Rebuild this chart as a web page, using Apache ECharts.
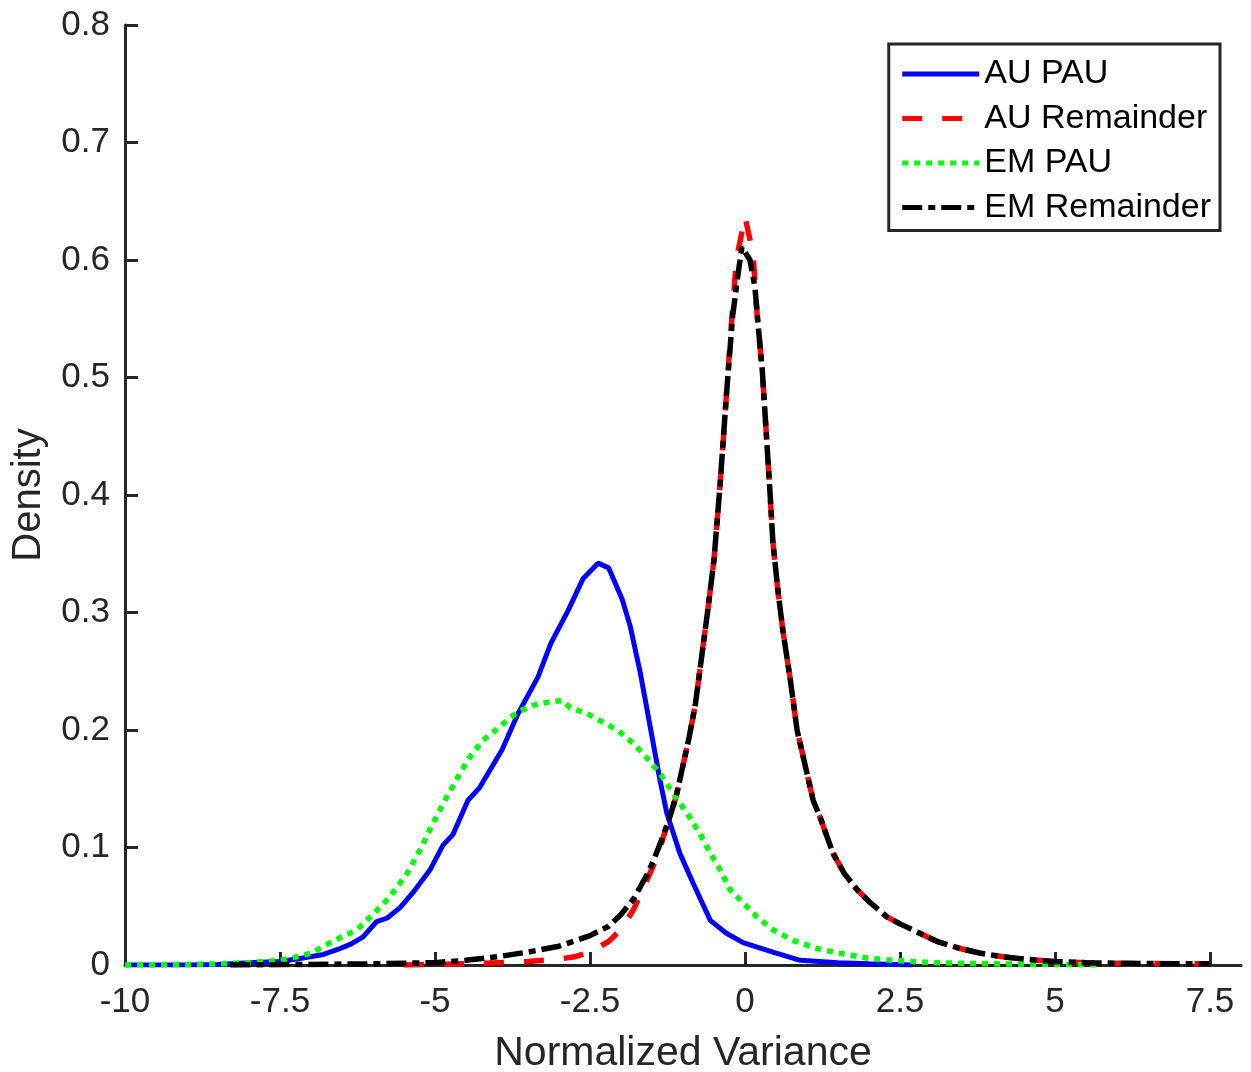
<!DOCTYPE html>
<html>
<head>
<meta charset="utf-8">
<script src="https://cdn.jsdelivr.net/npm/echarts@6/dist/echarts.min.js"></script>
<style>
html,body{margin:0;padding:0;background:#fff;}
#chart{width:1251px;height:1072px;}
</style>
</head>
<body>
<div id="chart"></div>
<script>
// ---- Data ----
var seriesNames = ['AU PAU', 'AU Remainder', 'EM PAU', 'EM Remainder'];
var xTicks = [-10, -7.5, -5, -2.5, 0, 2.5, 5, 7.5];
var yTicks = [0, 0.1, 0.2, 0.3, 0.4, 0.5, 0.6, 0.7, 0.8];

var auPauX = [-10, -9, -8.5, -8, -7.5, -7.13, -6.8, -6.58, -6.35, -6.16, -5.94, -5.77, -5.56, -5.35, -5.08, -4.87, -4.71, -4.47, -4.28, -3.92, -3.66, -3.34, -3.13, -2.85, -2.61, -2.37, -2.2, -1.98, -1.85, -1.69, -1.53, -1.37, -1.26, -1.05, -0.84, -0.56, -0.3, -0.03, 0.45, 0.89, 1.5, 2.0, 2.7];
var auPauY = [0, 0, 0.0005, 0.002, 0.003, 0.006, 0.009, 0.013, 0.018, 0.024, 0.037, 0.040, 0.049, 0.062, 0.081, 0.102, 0.111, 0.140, 0.151, 0.183, 0.214, 0.245, 0.274, 0.302, 0.329, 0.342, 0.338, 0.311, 0.288, 0.249, 0.203, 0.157, 0.129, 0.095, 0.070, 0.038, 0.027, 0.019, 0.011, 0.004, 0.002, 0.001, 0];

var auRemX = [-5.5, -4.5, -4.0, -3.5, -3.0, -2.75, -2.5, -2.2, -2.0, -1.8, -1.6, -1.4, -1.3, -1.2, -1.1, -1.0, -0.9, -0.8, -0.7, -0.6, -0.5, -0.4, -0.3, -0.22, -0.14, 0, 0.13, 0.2, 0.28, 0.34, 0.4, 0.45, 0.53, 0.61, 0.73, 0.84, 1.0, 1.1, 1.21, 1.42, 1.6, 1.81, 2.0, 2.29, 2.5, 2.82, 3.1, 3.47, 3.8, 4.16, 4.5, 4.97, 5.5, 6.05, 7.0, 7.5];
var auRemY = [0, 0.001, 0.002, 0.003, 0.005, 0.007, 0.011, 0.020, 0.030, 0.047, 0.070, 0.094, 0.112, 0.126, 0.146, 0.170, 0.194, 0.222, 0.262, 0.302, 0.345, 0.41, 0.485, 0.545, 0.600, 0.637, 0.605, 0.55, 0.505, 0.455, 0.405, 0.36, 0.319, 0.285, 0.243, 0.200, 0.163, 0.140, 0.126, 0.095, 0.078, 0.064, 0.054, 0.041, 0.035, 0.027, 0.020, 0.014, 0.010, 0.007, 0.005, 0.003, 0.002, 0.0015, 0.001, 0.001];

var emPauX = [-10, -9, -8.5, -8, -7.5, -7.23, -7.0, -6.69, -6.5, -6.26, -6.0, -5.73, -5.45, -5.24, -5.03, -4.81, -4.63, -4.44, -4.23, -3.95, -3.68, -3.42, -3.15, -2.94, -2.82, -2.55, -2.34, -2.06, -1.81, -1.58, -1.37, -1.16, -0.92, -0.73, -0.56, -0.40, -0.24, -0.03, 0.19, 0.45, 0.77, 1.16, 1.53, 1.96, 2.38, 3.0, 4.0, 5.0, 5.75];
var emPauY = [0, 0.0005, 0.001, 0.002, 0.004, 0.007, 0.010, 0.019, 0.024, 0.030, 0.043, 0.058, 0.078, 0.098, 0.121, 0.143, 0.160, 0.177, 0.191, 0.203, 0.215, 0.221, 0.224, 0.225, 0.219, 0.214, 0.208, 0.200, 0.189, 0.176, 0.163, 0.146, 0.128, 0.112, 0.095, 0.081, 0.064, 0.053, 0.041, 0.030, 0.021, 0.014, 0.010, 0.006, 0.004, 0.002, 0.001, 0.0005, 0];

var emRemX = [-8.3, -7.0, -6.0, -5.0, -4.5, -4.0, -3.5, -3.0, -2.5, -2.2, -2.0, -1.8, -1.6, -1.5, -1.4, -1.3, -1.2, -1.1, -1.0, -0.9, -0.8, -0.7, -0.6, -0.5, -0.4, -0.3, -0.2, -0.12, -0.05, 0.08, 0.16, 0.22, 0.28, 0.34, 0.4, 0.45, 0.53, 0.61, 0.73, 0.84, 1.0, 1.1, 1.21, 1.42, 1.6, 1.81, 2.0, 2.29, 2.5, 2.82, 3.1, 3.47, 3.8, 4.16, 4.5, 4.97, 5.5, 6.05, 7.0, 7.5];
var emRemY = [0, 0.0005, 0.001, 0.002, 0.004, 0.007, 0.011, 0.016, 0.025, 0.033, 0.043, 0.056, 0.075, 0.086, 0.099, 0.113, 0.128, 0.146, 0.170, 0.194, 0.222, 0.262, 0.302, 0.345, 0.41, 0.485, 0.552, 0.585, 0.611, 0.600, 0.577, 0.54, 0.505, 0.455, 0.405, 0.36, 0.319, 0.285, 0.243, 0.200, 0.163, 0.140, 0.126, 0.095, 0.078, 0.064, 0.054, 0.041, 0.035, 0.027, 0.020, 0.014, 0.010, 0.007, 0.005, 0.003, 0.002, 0.0015, 0.001, 0.001];

function pairs(xs, ys) { return xs.map(function (x, i) { return [x, ys[i]]; }); }

var FONT = 'Arial, "Liberation Sans", Helvetica, sans-serif';
var AX = '#262626';

var chart = echarts.init(document.getElementById('chart'), null, {renderer: 'canvas'});
chart.setOption({
  animation: false,
  backgroundColor: '#ffffff',
  grid: {left: 125, right: 10, top: 25, bottom: 107, containLabel: false, outerBoundsMode: 'none'},
  legend: {
    orient: 'vertical',
    right: 31,
    top: 44,
    data: seriesNames,
    itemWidth: 77,
    itemHeight: 20,
    itemGap: 10.5,
    padding: [13, 9, 6, 11],
    borderColor: '#262626',
    borderWidth: 3,
    backgroundColor: '#ffffff',
    itemStyle: {opacity: 0},
    lineStyle: {width: 5},
    textStyle: {fontFamily: FONT, fontSize: 34, color: '#000', lineHeight: 34}
  },
  xAxis: {
    type: 'value',
    min: -10, max: 8, interval: 2.5,
    name: 'Normalized Variance',
    nameLocation: 'middle',
    nameGap: 68,
    nameTextStyle: {fontFamily: FONT, fontSize: 41, color: AX},
    axisLine: {show: true, onZero: false, lineStyle: {color: AX, width: 3}},
    axisTick: {show: true, inside: true, length: 13, lineStyle: {color: AX, width: 3}, customValues: xTicks},
    axisLabel: {fontFamily: FONT, fontSize: 35, color: AX, margin: 20, customValues: xTicks},
    splitLine: {show: false}
  },
  yAxis: {
    type: 'value',
    min: 0, max: 0.8, interval: 0.1,
    name: 'Density',
    nameLocation: 'middle',
    nameGap: 76,
    nameTextStyle: {fontFamily: FONT, fontSize: 40, color: AX},
    axisLine: {show: true, onZero: false, lineStyle: {color: AX, width: 3}},
    axisTick: {show: true, inside: true, length: 13, lineStyle: {color: AX, width: 3}},
    axisLabel: {fontFamily: FONT, fontSize: 35, color: AX, margin: 15},
    splitLine: {show: false}
  },
  series: [
    {name: seriesNames[0], type: 'line', data: pairs(auPauX, auPauY), showSymbol: false, symbol: 'none',
     lineStyle: {color: '#0000ff', width: 5, type: 'solid'}, itemStyle: {color: '#0000ff'}, z: 2},
    {name: seriesNames[1], type: 'line', data: pairs(auRemX, auRemY), showSymbol: false, symbol: 'none',
     lineStyle: {color: '#ff0000', width: 5.5, type: [20, 20], cap: 'butt'}, itemStyle: {color: '#ff0000'}, z: 3},
    {name: seriesNames[2], type: 'line', data: pairs(emPauX, emPauY), showSymbol: false, symbol: 'none',
     lineStyle: {color: '#00ff00', width: 5.5, type: [6, 6], cap: 'butt'}, itemStyle: {color: '#00ff00'}, z: 4},
    {name: seriesNames[3], type: 'line', data: pairs(emRemX, emRemY), showSymbol: false, symbol: 'none',
     lineStyle: {color: '#000000', width: 5.5, type: [20, 6, 7, 6], cap: 'butt'}, itemStyle: {color: '#000000'}, z: 5}
  ]
});
</script>
</body>
</html>
